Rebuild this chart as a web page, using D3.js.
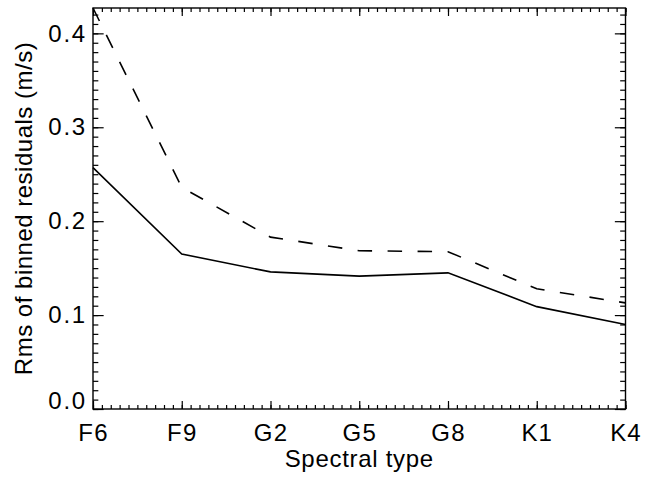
<!DOCTYPE html>
<html>
<head>
<meta charset="utf-8">
<script src="https://cdn.jsdelivr.net/npm/d3@7"></script>
<style>
  body { margin: 0; background: #fff; }
  svg text { font-family: "Liberation Sans", Arial, Helvetica, sans-serif; fill: #000; }
</style>
</head>
<body>
<div id="chart"></div>
<script>
// spectral types along the x axis
const spectralTypes = ["F6", "F9", "G2", "G5", "G8", "K1", "K4"];
// rms of binned residuals (m/s), solid and dashed curves
const rmsSolid  = [0.257, 0.165, 0.146, 0.1415, 0.145, 0.109, 0.090];
const rmsDashed = [0.427, 0.236, 0.183, 0.1685, 0.1675, 0.128, 0.113];
const yTicks = [0.0, 0.1, 0.2, 0.3, 0.4];
const yMax = 0.427;

const width = 646;
const height = 481;
const margin = { top: 8, right: 20.5, bottom: 72, left: 93 };
const innerW = width - margin.left - margin.right;
const innerH = height - margin.top - margin.bottom;

const svg = d3.select("#chart")
    .append("svg")
    .attr("width", width)
    .attr("height", height);

const g = svg.append("g")
    .attr("transform", `translate(${margin.left},${margin.top})`);

const x = d3.scaleLinear()
    .domain([0, spectralTypes.length - 1])
    .range([0, innerW]);

const y = d3.scaleLinear()
    .domain([0, yMax])
    .range([innerH, 0]);

// minor tick positions
const xMinor = d3.range(0, (spectralTypes.length - 1) * 10 + 1).map(d => d / 10);
const yMinor = d3.range(0, Math.floor(yMax * 100 + 1e-6) + 1).map(d => d / 100);

// IDL-ish tick lengths: x ticks scale with plot height, y ticks with width
const xMaj = 0.02 * innerH, xMin = xMaj / 2;
const yMaj = 0.02 * innerW, yMin = yMaj / 2;

function styleAxis(sel) {
    sel.select(".domain").remove();
    sel.selectAll("line").attr("stroke", "#000").attr("stroke-width", 1.2);
}

// bottom axis
g.append("g")
    .attr("transform", `translate(0,${innerH})`)
    .call(d3.axisBottom(x).tickValues(xMinor).tickFormat("").tickSize(-xMin).tickSizeOuter(0))
    .call(styleAxis);
g.append("g")
    .attr("transform", `translate(0,${innerH})`)
    .call(d3.axisBottom(x).tickValues(d3.range(spectralTypes.length))
        .tickFormat(i => spectralTypes[i]).tickSize(-xMaj).tickSizeOuter(0).tickPadding(15))
    .call(styleAxis)
    .call(a => a.selectAll("text").attr("font-size", 24).attr("letter-spacing", 1.2));

// top axis (ticks only)
g.append("g")
    .call(d3.axisTop(x).tickValues(xMinor).tickFormat("").tickSize(-xMin).tickSizeOuter(0))
    .call(styleAxis);
g.append("g")
    .call(d3.axisTop(x).tickValues(d3.range(spectralTypes.length)).tickFormat("").tickSize(-xMaj).tickSizeOuter(0))
    .call(styleAxis);

// left axis
g.append("g")
    .call(d3.axisLeft(y).tickValues(yMinor).tickFormat("").tickSize(-yMin).tickSizeOuter(0))
    .call(styleAxis);
g.append("g")
    .call(d3.axisLeft(y).tickValues(yTicks).tickFormat(d3.format(".1f")).tickSize(-yMaj).tickSizeOuter(0).tickPadding(6))
    .call(styleAxis)
    .call(a => a.selectAll("text").attr("font-size", 24).attr("letter-spacing", 1.8))
    .call(a => a.selectAll(".tick").filter(d => d === 0).select("text").attr("dy", "-0.02em"));

// right axis (ticks only)
g.append("g")
    .attr("transform", `translate(${innerW},0)`)
    .call(d3.axisRight(y).tickValues(yMinor).tickFormat("").tickSize(-yMin).tickSizeOuter(0))
    .call(styleAxis);
g.append("g")
    .attr("transform", `translate(${innerW},0)`)
    .call(d3.axisRight(y).tickValues(yTicks).tickFormat("").tickSize(-yMaj).tickSizeOuter(0))
    .call(styleAxis);

// frame
g.append("rect")
    .attr("width", innerW)
    .attr("height", innerH)
    .attr("fill", "none")
    .attr("stroke", "#000")
    .attr("stroke-width", 1.4);

// lines
const line = d3.line()
    .x((d, i) => x(i))
    .y(d => y(d));

g.append("path")
    .datum(rmsSolid)
    .attr("d", line)
    .attr("fill", "none")
    .attr("stroke", "#000")
    .attr("stroke-width", 1.6);

g.append("path")
    .datum(rmsDashed)
    .attr("d", line)
    .attr("fill", "none")
    .attr("stroke", "#000")
    .attr("stroke-width", 1.6)
    .attr("stroke-dasharray", "14.5,15.5");

// axis titles
svg.append("text")
    .attr("x", margin.left + innerW / 2)
    .attr("y", 467)
    .attr("text-anchor", "middle")
    .attr("font-size", 24)
    .attr("letter-spacing", 0.7)
    .text("Spectral type");

svg.append("text")
    .attr("transform", `translate(31.5,${margin.top + innerH / 2}) rotate(-90)`)
    .attr("text-anchor", "middle")
    .attr("font-size", 24)
    .attr("letter-spacing", 0.5)
    .text("Rms of binned residuals (m/s)");
</script>
</body>
</html>
